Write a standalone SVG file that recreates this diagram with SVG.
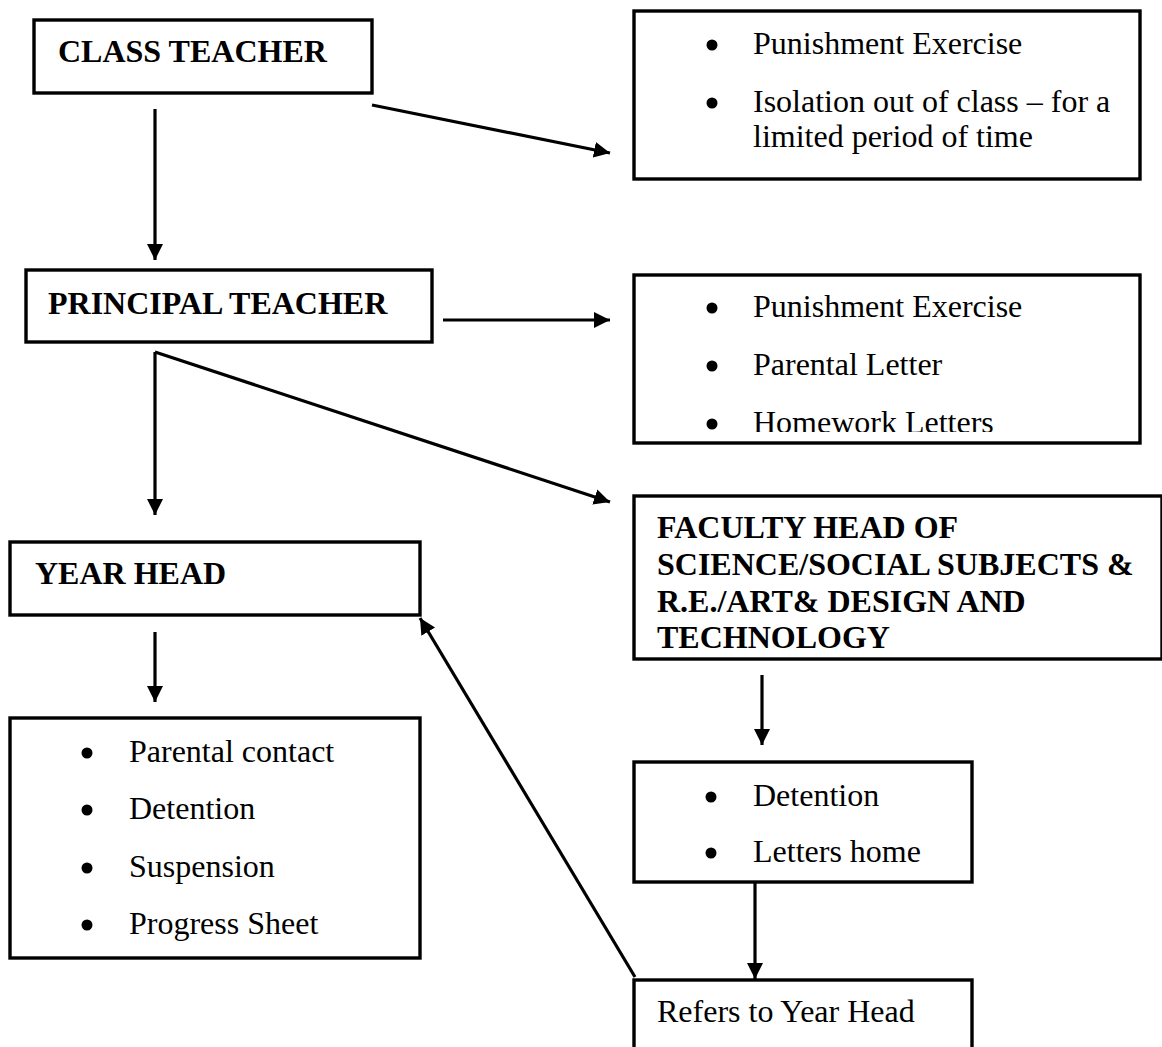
<svg xmlns="http://www.w3.org/2000/svg" width="1162" height="1047" viewBox="0 0 1162 1047">
<style>
.box{fill:#fff;stroke:#000;stroke-width:3.4}
.t{font-family:"Liberation Serif","Times New Roman",serif;font-size:32px;fill:#000}
.b{font-weight:bold}
.c{stroke:#000;stroke-width:3.2;fill:none}
</style>
<defs>
<marker id="ah" markerUnits="userSpaceOnUse" markerWidth="18" markerHeight="18" viewBox="0 0 18 18" refX="16" refY="9" orient="auto">
<path d="M0,1 L16,9 L0,17 z" fill="#000"/>
</marker>
<clipPath id="clip2"><rect x="634" y="270" width="510" height="162"/></clipPath>
</defs>
<rect width="1162" height="1047" fill="#fff"/>
<g id="connectors">
<line class="c" x1="155" y1="109" x2="155" y2="260" marker-end="url(#ah)"/>
<line class="c" x1="372" y1="105" x2="610" y2="153" marker-end="url(#ah)"/>
<line class="c" x1="443" y1="320" x2="610" y2="320" marker-end="url(#ah)"/>
<line class="c" x1="155" y1="352" x2="155" y2="515" marker-end="url(#ah)"/>
<line class="c" x1="155" y1="352" x2="610" y2="502" marker-end="url(#ah)"/>
<line class="c" x1="155" y1="632" x2="155" y2="702" marker-end="url(#ah)"/>
<line class="c" x1="762" y1="675" x2="762" y2="745" marker-end="url(#ah)"/>
<line class="c" x1="755" y1="882" x2="755" y2="979" marker-end="url(#ah)"/>
<line class="c" x1="635" y1="977" x2="420" y2="618" marker-end="url(#ah)"/>
</g>
<g id="class-teacher">
<rect class="box" x="34" y="20" width="338" height="73"/>
<text class="t b" x="58" y="62">CLASS TEACHER</text>
</g>
<g id="class-actions">
<rect class="box" x="634" y="11" width="506" height="168"/>
<circle cx="712" cy="45" r="5.5"/>
<text class="t" x="753" y="54">Punishment Exercise</text>
<circle cx="712" cy="103" r="5.5"/>
<text class="t" x="753" y="112">Isolation out of class – for a</text>
<text class="t" x="753" y="147">limited period of time</text>
</g>
<g id="principal-teacher">
<rect class="box" x="26" y="270" width="406" height="72"/>
<text class="t b" x="48" y="314">PRINCIPAL TEACHER</text>
</g>
<g id="principal-actions">
<rect class="box" x="634" y="275" width="506" height="168"/>
<g clip-path="url(#clip2)">
<circle cx="712" cy="308" r="5.5"/>
<text class="t" x="753" y="317">Punishment Exercise</text>
<circle cx="712" cy="366" r="5.5"/>
<text class="t" x="753" y="375">Parental Letter</text>
<circle cx="712" cy="424" r="5.5"/>
<text class="t" x="753" y="433">Homework Letters</text>
</g>
</g>
<g id="year-head">
<rect class="box" x="10" y="542" width="410" height="73"/>
<text class="t b" x="35" y="584">YEAR HEAD</text>
</g>
<g id="year-head-actions">
<rect class="box" x="10" y="718" width="410" height="240"/>
<circle cx="87" cy="753" r="5.5"/>
<text class="t" x="129" y="762">Parental contact</text>
<circle cx="87" cy="810" r="5.5"/>
<text class="t" x="129" y="819">Detention</text>
<circle cx="87" cy="868" r="5.5"/>
<text class="t" x="129" y="877">Suspension</text>
<circle cx="87" cy="925" r="5.5"/>
<text class="t" x="129" y="934">Progress Sheet</text>
</g>
<g id="faculty-head">
<rect class="box" x="634" y="496" width="528" height="163"/>
<text class="t b" x="657" y="538">FACULTY HEAD OF</text>
<text class="t b" x="657" y="575">SCIENCE/SOCIAL SUBJECTS &amp;</text>
<text class="t b" x="657" y="612">R.E./ART&amp; DESIGN AND</text>
<text class="t b" x="657" y="648">TECHNOLOGY</text>
</g>
<g id="faculty-actions">
<rect class="box" x="634" y="762" width="338" height="120"/>
<circle cx="711" cy="797" r="5.5"/>
<text class="t" x="753" y="806">Detention</text>
<circle cx="711" cy="853" r="5.5"/>
<text class="t" x="753" y="862">Letters home</text>
</g>
<g id="refers">
<rect class="box" x="634" y="980" width="338" height="90"/>
<text class="t" x="657" y="1022">Refers to Year Head</text>
</g>
</svg>
